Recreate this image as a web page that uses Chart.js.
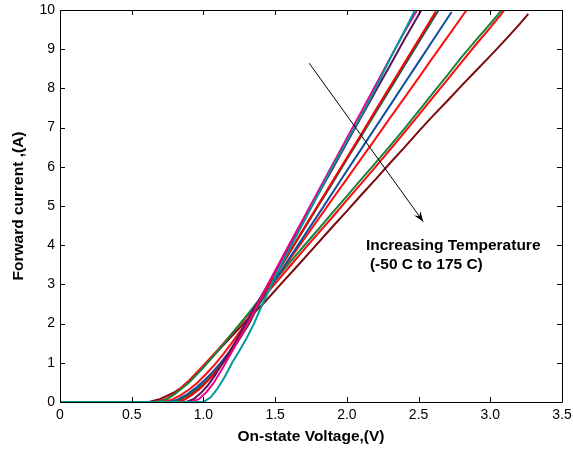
<!DOCTYPE html>
<html>
<head>
<meta charset="utf-8">
<script src="https://cdn.jsdelivr.net/npm/chart.js@4/dist/chart.umd.min.js"></script>
<style>
html,body{margin:0;padding:0;background:#fff;}
#wrap{width:573px;height:451px;position:relative;}
</style>
</head>
<body>
<div id="wrap"><canvas id="c" width="573" height="451"></canvas></div>
<script>
// ---- Data ----
const xTicks = [0, 0.5, 1, 1.5, 2, 2.5, 3, 3.5];
const yTicks = [0, 1, 2, 3, 4, 5, 6, 7, 8, 9, 10];

// -50 C (teal)
const v1 = [0, 1.0, 1.05, 1.1, 1.15, 1.2, 1.25, 1.3, 1.35, 1.4, 1.45, 1.5, 1.6, 1.7, 1.8, 1.9, 2.0, 2.1, 2.2, 2.3, 2.4, 2.475];
const i1 = [0, 0, 0.12, 0.35, 0.65, 1.0, 1.3, 1.62, 1.98, 2.4, 2.8, 3.2, 3.9, 4.6, 5.3, 6.0, 6.65, 7.3, 8.0, 8.75, 9.45, 10];
// magenta
const v2 = [0, 0.92, 0.97, 1.02, 1.07, 1.12, 1.17, 1.22, 1.28, 1.34, 1.4, 1.5, 1.6, 1.7, 1.8, 1.9, 2.0, 2.1, 2.2, 2.3, 2.4, 2.49];
const i2 = [0, 0, 0.08, 0.25, 0.48, 0.78, 1.1, 1.42, 1.8, 2.22, 2.65, 3.35, 4.03, 4.7, 5.38, 6.05, 6.73, 7.4, 8.08, 8.76, 9.43, 10];
// dark purple
const v3 = [0, 0.88, 0.93, 0.98, 1.03, 1.08, 1.13, 1.18, 1.24, 1.3, 1.38, 1.5, 1.6, 1.7, 1.8, 1.9, 2.0, 2.1, 2.2, 2.3, 2.4, 2.52];
const i3 = [0, 0, 0.07, 0.22, 0.42, 0.68, 0.97, 1.27, 1.65, 2.05, 2.55, 3.32, 3.98, 4.64, 5.3, 5.95, 6.61, 7.27, 7.93, 8.58, 9.24, 10];
// red
const v4 = [0, 0.82, 0.87, 0.92, 0.97, 1.02, 1.07, 1.12, 1.17, 1.22, 1.27, 1.32, 1.38, 1.5, 1.6, 1.7, 1.8, 1.9, 2.0, 2.1, 2.2, 2.3, 2.4, 2.5, 2.62];
const i4 = [0, 0, 0.06, 0.18, 0.32, 0.5, 0.7, 0.92, 1.17, 1.45, 1.75, 2.05, 2.5, 3.22, 3.82, 4.43, 5.03, 5.63, 6.23, 6.83, 7.44, 8.04, 8.64, 9.24, 9.96];
// dark green
const v5 = [0, 0.78, 0.84, 0.9, 0.96, 1.02, 1.08, 1.14, 1.2, 1.26, 1.32, 1.38, 1.5, 1.6, 1.7, 1.8, 1.9, 2.0, 2.1, 2.2, 2.3, 2.4, 2.5, 2.64];
const i5 = [0, 0, 0.06, 0.18, 0.34, 0.53, 0.76, 1.02, 1.32, 1.65, 2.0, 2.45, 3.21, 3.81, 4.4, 5.0, 5.59, 6.19, 6.78, 7.38, 7.97, 8.57, 9.17, 10];
// blue
const v6 = [0, 0.76, 0.82, 0.88, 0.94, 1.0, 1.06, 1.12, 1.18, 1.24, 1.3, 1.38, 1.5, 1.6, 1.7, 1.8, 1.9, 2.0, 2.1, 2.2, 2.3, 2.4, 2.5, 2.6, 2.73];
const i6 = [0, 0, 0.06, 0.18, 0.34, 0.53, 0.75, 1.0, 1.28, 1.6, 1.98, 2.45, 3.12, 3.67, 4.23, 4.78, 5.34, 5.9, 6.45, 7.01, 7.56, 8.12, 8.67, 9.23, 9.95];
// red
const v7 = [0, 0.72, 0.78, 0.84, 0.9, 0.96, 1.02, 1.08, 1.14, 1.2, 1.26, 1.32, 1.38, 1.5, 1.6, 1.7, 1.8, 1.9, 2.0, 2.1, 2.2, 2.3, 2.4, 2.5, 2.6, 2.7, 2.835];
const i7 = [0, 0, 0.06, 0.17, 0.32, 0.5, 0.72, 0.96, 1.23, 1.52, 1.83, 2.15, 2.5, 3.12, 3.63, 4.15, 4.66, 5.18, 5.69, 6.21, 6.72, 7.24, 7.75, 8.27, 8.79, 9.3, 10];
// green
const v8 = [0, 0.68, 0.75, 0.8, 0.9, 1.0, 1.1, 1.2, 1.3, 1.4, 1.5, 1.6, 1.7, 1.8, 1.9, 2.0, 2.1, 2.2, 2.3, 2.4, 2.5, 2.6, 2.7, 2.8, 2.9, 3.0, 3.08];
const i8 = [0, 0, 0.08, 0.2, 0.5, 0.88, 1.3, 1.75, 2.2, 2.66, 3.1, 3.55, 3.98, 4.4, 4.83, 5.25, 5.68, 6.1, 6.53, 6.97, 7.42, 7.88, 8.33, 8.8, 9.23, 9.65, 10];
// red
const v9 = [0, 0.66, 0.74, 0.8, 0.9, 1.0, 1.1, 1.2, 1.3, 1.4, 1.5, 1.6, 1.7, 1.8, 1.9, 2.0, 2.1, 2.2, 2.3, 2.4, 2.5, 2.6, 2.7, 2.8, 2.9, 3.0, 3.095];
const i9 = [0, 0, 0.08, 0.22, 0.55, 0.93, 1.33, 1.75, 2.17, 2.6, 3.02, 3.45, 3.88, 4.3, 4.72, 5.15, 5.57, 6.0, 6.43, 6.87, 7.32, 7.77, 8.22, 8.67, 9.12, 9.55, 9.98];
// 175 C (maroon)
const v10 = [0, 0.62, 0.7, 0.8, 0.84, 0.9, 1.0, 1.1, 1.19, 1.3, 1.42, 1.53, 1.65, 1.77, 1.9, 2.0, 2.1, 2.2, 2.3, 2.4, 2.51, 2.6, 2.7, 2.8, 2.9, 3.0, 3.1, 3.2, 3.265];
const i10 = [0, 0, 0.08, 0.25, 0.35, 0.52, 0.9, 1.3, 1.65, 2.08, 2.52, 2.97, 3.45, 3.94, 4.47, 4.87, 5.28, 5.68, 6.09, 6.49, 6.94, 7.3, 7.68, 8.07, 8.45, 8.83, 9.22, 9.62, 9.9];

const seriesV = [v1, v2, v3, v4, v5, v6, v7, v8, v9, v10];
const seriesI = [i1, i2, i3, i4, i5, i6, i7, i8, i9, i10];
const seriesColors = ['#00989C', '#F0008C', '#5A1458', '#FF0000', '#1E5C48', '#0E4E9E', '#FF1010', '#17843E', '#FF0A0A', '#7C0A0A'];

const arrowFrom = {x: 1.738, y: 8.64};
const arrowTo = {x: 2.533, y: 4.6};
const noteLines = ['Increasing Temperature', '(-50 C to 175 C)'];
const notePos = [{x: 2.133, y: 3.98}, {x: 2.161, y: 3.49}];

// ---- Build datasets ----
const datasets = seriesV.map((vs, k) => ({
  data: vs.map((v, j) => ({x: v, y: seriesI[k][j]})),
  borderColor: seriesColors[k],
  borderWidth: 2,
  pointRadius: 0,
  tension: 0,
  fill: false
}));

const frameTicks = {
  id: 'frameTicks',
  afterDraw(chart) {
    const {ctx, chartArea: a, scales: {x, y}} = chart;
    ctx.save();
    ctx.strokeStyle = '#000';
    ctx.lineWidth = 1;
    ctx.beginPath();
    ctx.rect(Math.round(a.left) + 0.5, Math.round(a.top) + 0.5, Math.round(a.right - a.left), Math.round(a.bottom - a.top));
    ctx.stroke();
    const L = 5;
    ctx.beginPath();
    x.ticks.forEach(t => {
      const px = Math.round(x.getPixelForValue(t.value)) + 0.5;
      ctx.moveTo(px, a.bottom); ctx.lineTo(px, a.bottom - L);
      ctx.moveTo(px, a.top); ctx.lineTo(px, a.top + L);
    });
    y.ticks.forEach(t => {
      const py = Math.round(y.getPixelForValue(t.value)) + 0.5;
      ctx.moveTo(a.left, py); ctx.lineTo(a.left + L, py);
      ctx.moveTo(a.right, py); ctx.lineTo(a.right - L, py);
    });
    ctx.stroke();

    // annotation arrow
    const x0 = x.getPixelForValue(arrowFrom.x), y0 = y.getPixelForValue(arrowFrom.y);
    const x1 = x.getPixelForValue(arrowTo.x), y1 = y.getPixelForValue(arrowTo.y);
    ctx.beginPath();
    ctx.moveTo(x0, y0); ctx.lineTo(x1, y1);
    ctx.stroke();
    const ang = Math.atan2(y1 - y0, x1 - x0);
    const hl = 11, hw = 0.35;
    ctx.fillStyle = '#000';
    ctx.beginPath();
    ctx.moveTo(x1, y1);
    ctx.lineTo(x1 - hl * Math.cos(ang - hw), y1 - hl * Math.sin(ang - hw));
    ctx.lineTo(x1 - hl * 0.6 * Math.cos(ang), y1 - hl * 0.6 * Math.sin(ang));
    ctx.lineTo(x1 - hl * Math.cos(ang + hw), y1 - hl * Math.sin(ang + hw));
    ctx.closePath();
    ctx.fill();

    ctx.font = 'bold 15.5px "Liberation Sans", Arial, sans-serif';
    ctx.textBaseline = 'middle';
    ctx.textAlign = 'left';
    noteLines.forEach((s, k) => {
      ctx.fillText(s, x.getPixelForValue(notePos[k].x), y.getPixelForValue(notePos[k].y));
    });
    ctx.restore();
  }
};

new Chart(document.getElementById('c'), {
  type: 'line',
  data: {datasets},
  options: {
    responsive: false,
    animation: false,
    layout: {padding: {top: 10, right: 11, left: 0, bottom: 0}},
    plugins: {legend: {display: false}, tooltip: {enabled: false}},
    scales: {
      x: {
        type: 'linear', min: 0, max: 3.5,
        afterFit: s => { s.height = 49; s.paddingLeft = 0; s.paddingRight = 0; },
        afterBuildTicks: s => { s.ticks = xTicks.map(v => ({value: v})); },
        grid: {display: false, drawTicks: false},
        border: {display: false},
        ticks: {color: '#000', padding: 5, font: {family: '"Liberation Sans", Arial, sans-serif', size: 14}, maxRotation: 0, autoSkip: false},
        title: {display: true, text: 'On-state Voltage,(V)', color: '#000', padding: {top: 0, bottom: 5},
          font: {family: '"Liberation Sans", Arial, sans-serif', size: 15.5, weight: 'bold'}}
      },
      y: {
        type: 'linear', min: 0, max: 10,
        afterFit: s => { s.width = 60; s.paddingTop = 0; s.paddingBottom = 0; },
        afterBuildTicks: s => { s.ticks = yTicks.map(v => ({value: v})); },
        grid: {display: false, drawTicks: false},
        border: {display: false},
        ticks: {color: '#000', padding: 5, font: {family: '"Liberation Sans", Arial, sans-serif', size: 14}, autoSkip: false},
        title: {display: true, text: 'Forward current ,(A)', color: '#000', padding: {top: 9, bottom: 0},
          font: {family: '"Liberation Sans", Arial, sans-serif', size: 15.5, weight: 'bold'}}
      }
    }
  },
  plugins: [frameTicks]
});
</script>
</body>
</html>
